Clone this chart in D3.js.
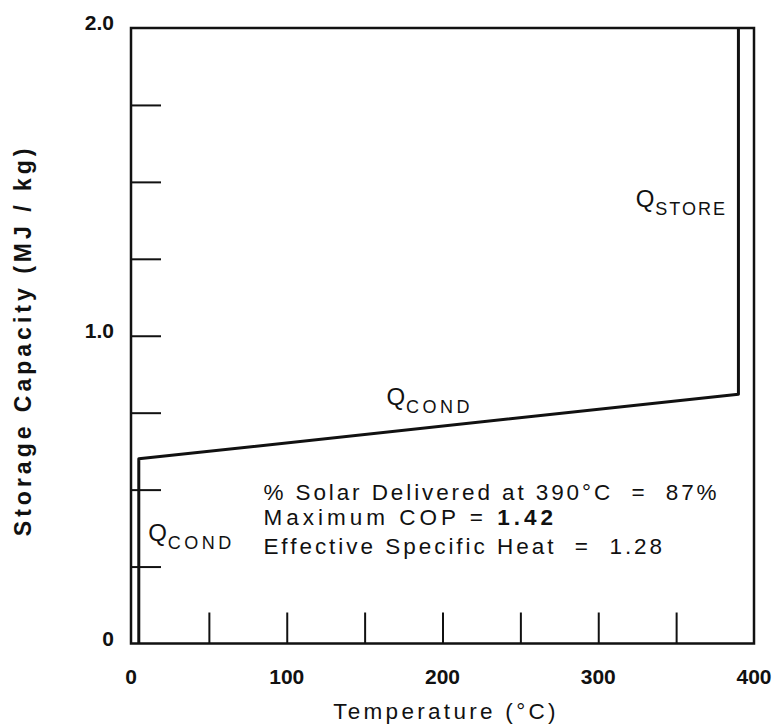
<!DOCTYPE html>
<html>
<head>
<meta charset="utf-8">
<script src="https://cdn.jsdelivr.net/npm/d3@7"></script>
<style>
  html, body { margin: 0; padding: 0; background: #fff; }
  svg { display: block; font-family: "Liberation Sans", Arial, Helvetica, sans-serif; }
</style>
</head>
<body>
<svg id="chart" width="778" height="728"></svg>
<script>
// ---- data ----
const temperature = [5, 5, 390, 390];          // °C
const capacity    = [0, 0.60, 0.81, 2.0];      // MJ/kg
const xTickValues = [50, 100, 150, 200, 250, 300, 350];
const xLabelValues = [0, 100, 200, 300, 400];
const yTickValues = [0.25, 0.5, 0.75, 1.0, 1.25, 1.5, 1.75];
const yLabelValues = [0, 1.0, 2.0];
const yLabelText = ["0", "1.0", "2.0"];
// annotation lines: start temperature, baseline value, end temperature (text span)
const annotations = [
  { t0: 85, t1: 376, v: 0.465, parts: [{ s: "% Solar Delivered at 390°C  =  87%", w: "normal" }] },
  { t0: 85, t1: 271, v: 0.385, parts: [{ s: "Maximum COP = ", w: "normal" }, { s: "1.42", w: "bold" }] },
  { t0: 85, t1: 341, v: 0.29,  parts: [{ s: "Effective Specific Heat  =  1.28", w: "normal" }] }
];
const qLabels = [
  { t: 164, v: 0.775, main: "Q", sub: "COND",  ls: 3.5 },
  { t: 11,  v: 0.332, main: "Q", sub: "COND",  ls: 3.5 },
  { t: 324, v: 1.418, main: "Q", sub: "STORE", ls: 2 }
];

// ---- layout ----
const svg = d3.select("#chart");
const x = d3.scaleLinear().domain([0, 400]).range([131, 754]);
const y = d3.scaleLinear().domain([0, 2]).range([643.5, 28]);

// frame
svg.append("rect")
  .attr("x", x(0)).attr("y", y(2))
  .attr("width", x(400) - x(0)).attr("height", y(0) - y(2))
  .attr("fill", "none").attr("stroke", "#111").attr("stroke-width", 2.5);

// inward ticks
const xAxis = svg.append("g").attr("transform", `translate(0,${y(0)})`)
  .call(d3.axisBottom(x).tickValues(xTickValues).tickSize(-31).tickFormat(""));
xAxis.select(".domain").remove();
xAxis.selectAll(".tick line").attr("stroke", "#111").attr("stroke-width", 2);

const yAxis = svg.append("g").attr("transform", `translate(${x(0)},0)`)
  .call(d3.axisLeft(y).tickValues(yTickValues).tickSize(-30).tickFormat(""));
yAxis.select(".domain").remove();
yAxis.selectAll(".tick line").attr("stroke", "#111").attr("stroke-width", 2);

// tick labels
svg.append("g").selectAll("text").data(xLabelValues).join("text")
  .attr("x", d => x(d)).attr("y", y(0) + 40)
  .attr("text-anchor", "middle")
  .attr("font-size", 21).attr("font-weight", "bold").attr("fill", "#111")
  .text(d => d);

svg.append("g").selectAll("text").data(yLabelValues).join("text")
  .attr("x", x(0) - 17).attr("y", d => y(d) + 2)
  .attr("text-anchor", "end")
  .attr("font-size", 21).attr("font-weight", "bold").attr("fill", "#111")
  .text((d, i) => yLabelText[i]);

// axis titles
svg.append("text")
  .attr("x", 446).attr("y", 719)
  .attr("text-anchor", "middle")
  .attr("font-size", 22.5).attr("letter-spacing", 3.3).attr("fill", "#111")
  .text("Temperature (°C)");

svg.append("text")
  .attr("transform", `translate(31,${y(0.985)}) rotate(-90)`)
  .attr("text-anchor", "middle")
  .attr("font-size", 23).attr("font-weight", "bold").attr("letter-spacing", 4).attr("fill", "#111")
  .text("Storage Capacity (MJ / kg)");

// data line
const pts = temperature.map((t, i) => [t, capacity[i]]);
svg.append("path")
  .attr("d", d3.line().x(d => x(d[0])).y(d => y(d[1]))(pts))
  .attr("fill", "none").attr("stroke", "#111").attr("stroke-width", 3)
  .attr("stroke-linejoin", "round");

// Q labels
qLabels.forEach(q => {
  const tx = svg.append("text")
    .attr("x", x(q.t)).attr("y", y(q.v))
    .attr("fill", "#111");
  tx.append("tspan").attr("font-size", 24).text(q.main);
  tx.append("tspan").attr("font-size", 18).attr("dy", 8).attr("dx", 1)
    .attr("letter-spacing", q.ls).text(q.sub);
});

// annotations
annotations.forEach(a => {
  const tx = svg.append("text")
    .attr("x", x(a.t0)).attr("y", y(a.v))
    .attr("font-size", 22.5).attr("fill", "#111")
    .attr("textLength", x(a.t1) - x(a.t0)).attr("lengthAdjust", "spacing")
    .attr("xml:space", "preserve").style("white-space", "pre");
  a.parts.forEach(p => tx.append("tspan").attr("font-weight", p.w).text(p.s));
});
</script>
</body>
</html>
